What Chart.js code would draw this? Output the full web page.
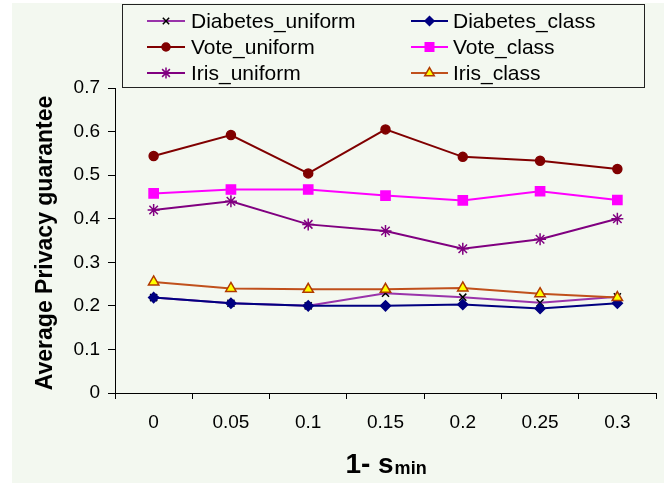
<!DOCTYPE html>
<html>
<head>
<meta charset="utf-8">
<script src="https://cdn.jsdelivr.net/npm/chart.js@4"></script>
<style>
  html, body { margin: 0; padding: 0; background: #ffffff; }
  #wrap { width: 664px; height: 486px; }
</style>
</head>
<body>
<div id="wrap"><canvas id="privacy" width="664" height="486"></canvas></div>
<script>
// x categories (1 - s_min)
const xLabels = ["0", "0.05", "0.1", "0.15", "0.2", "0.25", "0.3"];
// y axis ticks
const yTicks = [0, 0.1, 0.2, 0.3, 0.4, 0.5, 0.6, 0.7];

// series values
const diabetesUniform = [0.219, 0.206, 0.200, 0.229, 0.220, 0.207, 0.221];
const diabetesClass   = [0.219, 0.206, 0.200, 0.200, 0.203, 0.194, 0.206];
const voteUniform     = [0.544, 0.592, 0.504, 0.605, 0.542, 0.533, 0.514];
const voteClass       = [0.458, 0.467, 0.467, 0.453, 0.442, 0.463, 0.443];
const irisUniform     = [0.420, 0.440, 0.387, 0.372, 0.331, 0.353, 0.400];
const irisClass       = [0.255, 0.240, 0.238, 0.238, 0.241, 0.228, 0.219];

const seriesNames = ["Diabetes_uniform", "Diabetes_class", "Vote_uniform", "Vote_class", "Iris_uniform", "Iris_class"];

const FONT = "'Liberation Sans', Arial, sans-serif";

// Function to build one line dataset
function makeSeries(label, data, line, style, fill, edge, radius) {
    return {
        label: label,
        data: data,
        borderColor: line,
        borderWidth: 2,
        tension: 0,
        fill: false,
        pointStyle: style,
        pointRadius: radius,
        pointHoverRadius: radius,
        pointBackgroundColor: fill,
        pointBorderColor: edge,
        pointBorderWidth: 1.5
    };
}

const datasets = [
    makeSeries(seriesNames[0], diabetesUniform, "#9933aa", "crossRot", "#000000", "#000000", 5),
    makeSeries(seriesNames[1], diabetesClass, "#000080", "rectRot", "#000080", "#000080", 5),
    makeSeries(seriesNames[2], voteUniform, "#800000", "circle", "#800000", "#800000", 4.5),
    makeSeries(seriesNames[3], voteClass, "#ff00ff", "rect", "#ff00ff", "#ff00ff", 6.5),
    makeSeries(seriesNames[4], irisUniform, "#800080", "star", "#800080", "#800080", 6),
    makeSeries(seriesNames[5], irisClass, "#c0501c", "triangle", "#ffff00", "#b03a00", 6)
];
// later series on top, as in the original
datasets.forEach((d, i) => { d.order = datasets.length - i; });

// Background panel, legend box and axis titles
const decorPlugin = {
    id: "decor",
    beforeDraw(chart) {
        const ctx = chart.ctx;
        ctx.save();
        ctx.fillStyle = "#ffffff";
        ctx.fillRect(0, 0, chart.width, chart.height);
        ctx.fillStyle = "#f3f8f0";
        ctx.fillRect(12, 3, chart.width - 12, chart.height - 6);
        ctx.restore();
    },
    afterDraw(chart) {
        const ctx = chart.ctx;
        ctx.save();

        // legend
        ctx.strokeStyle = "#222222";
        ctx.lineWidth = 1;
        ctx.strokeRect(122.5, 4.5, 522, 83);
        const cols = [{ x0: 147, x1: 185, tx: 191 }, { x0: 411, x1: 448, tx: 453 }];
        const rows = [21, 47, 73];
        chart.data.datasets.forEach((ds, i) => {
            const c = cols[i % 2];
            const y = rows[Math.floor(i / 2)];
            ctx.strokeStyle = ds.borderColor;
            ctx.lineWidth = 2;
            ctx.beginPath();
            ctx.moveTo(c.x0, y);
            ctx.lineTo(c.x1, y);
            ctx.stroke();
            ctx.fillStyle = ds.pointBackgroundColor;
            ctx.strokeStyle = ds.pointBorderColor;
            ctx.lineWidth = ds.pointBorderWidth;
            Chart.helpers.drawPoint(ctx, {
                pointStyle: ds.pointStyle,
                radius: ds.pointRadius - 0.5,
                borderWidth: ds.pointBorderWidth,
                rotation: 0
            }, (c.x0 + c.x1) / 2, y);
            ctx.fillStyle = "#000000";
            ctx.font = "21px " + FONT;
            ctx.textAlign = "left";
            ctx.textBaseline = "middle";
            ctx.fillText(ds.label, c.tx, y + 1);
        });

        // y axis title
        ctx.fillStyle = "#000000";
        ctx.font = "bold 23px " + FONT;
        ctx.textAlign = "center";
        ctx.textBaseline = "middle";
        ctx.translate(46, 243);
        ctx.rotate(-Math.PI / 2);
        ctx.fillText("Average Privacy guarantee", 0, 0);
        ctx.setTransform(1, 0, 0, 1, 0, 0);

        // x axis title: "1- s" with subscript "min"
        const area = chart.chartArea;
        const mainTxt = "1- s";
        const subTxt = "min";
        ctx.font = "bold 28px " + FONT;
        const w1 = ctx.measureText(mainTxt).width;
        ctx.font = "bold 18px " + FONT;
        const w2 = ctx.measureText(subTxt).width;
        const start = (area.left + area.right) / 2 - (w1 + w2) / 2;
        ctx.textAlign = "left";
        ctx.textBaseline = "alphabetic";
        ctx.font = "bold 28px " + FONT;
        ctx.fillText(mainTxt, start, 473);
        ctx.font = "bold 18px " + FONT;
        ctx.fillText(subTxt, start + w1 + 1, 474);

        ctx.restore();
    }
};

window.addEventListener("DOMContentLoaded", () => {
    const canvas = document.getElementById("privacy");
    new Chart(canvas, {
        type: "line",
        data: { labels: xLabels, datasets: datasets },
        options: {
            responsive: false,
            animation: false,
            devicePixelRatio: 1,
            layout: { padding: { left: 0, right: 4, top: 88, bottom: 0 } },
            plugins: {
                legend: { display: false },
                tooltip: { enabled: false }
            },
            scales: {
                x: {
                    offset: true,
                    grid: {
                        offset: true,
                        drawOnChartArea: false,
                        drawTicks: true,
                        tickLength: 6,
                        color: "#000000"
                    },
                    border: { color: "#000000", width: 1 },
                    ticks: {
                        color: "#000000",
                        font: { family: FONT, size: 19 },
                        padding: 12,
                        maxRotation: 0,
                        autoSkip: false
                    },
                    afterFit(scale) { scale.height = 93; }
                },
                y: {
                    min: 0,
                    max: 0.7,
                    afterBuildTicks(scale) {
                        scale.ticks = yTicks.map(v => ({ value: v }));
                    },
                    grid: {
                        drawOnChartArea: false,
                        drawTicks: true,
                        tickLength: 7,
                        color: "#000000"
                    },
                    border: { color: "#000000", width: 1 },
                    ticks: {
                        color: "#000000",
                        font: { family: FONT, size: 19 },
                        padding: 8,
                        callback: v => String(v)
                    },
                    afterFit(scale) { scale.width = 115; }
                }
            }
        },
        plugins: [decorPlugin]
    });
});
</script>
</body>
</html>
